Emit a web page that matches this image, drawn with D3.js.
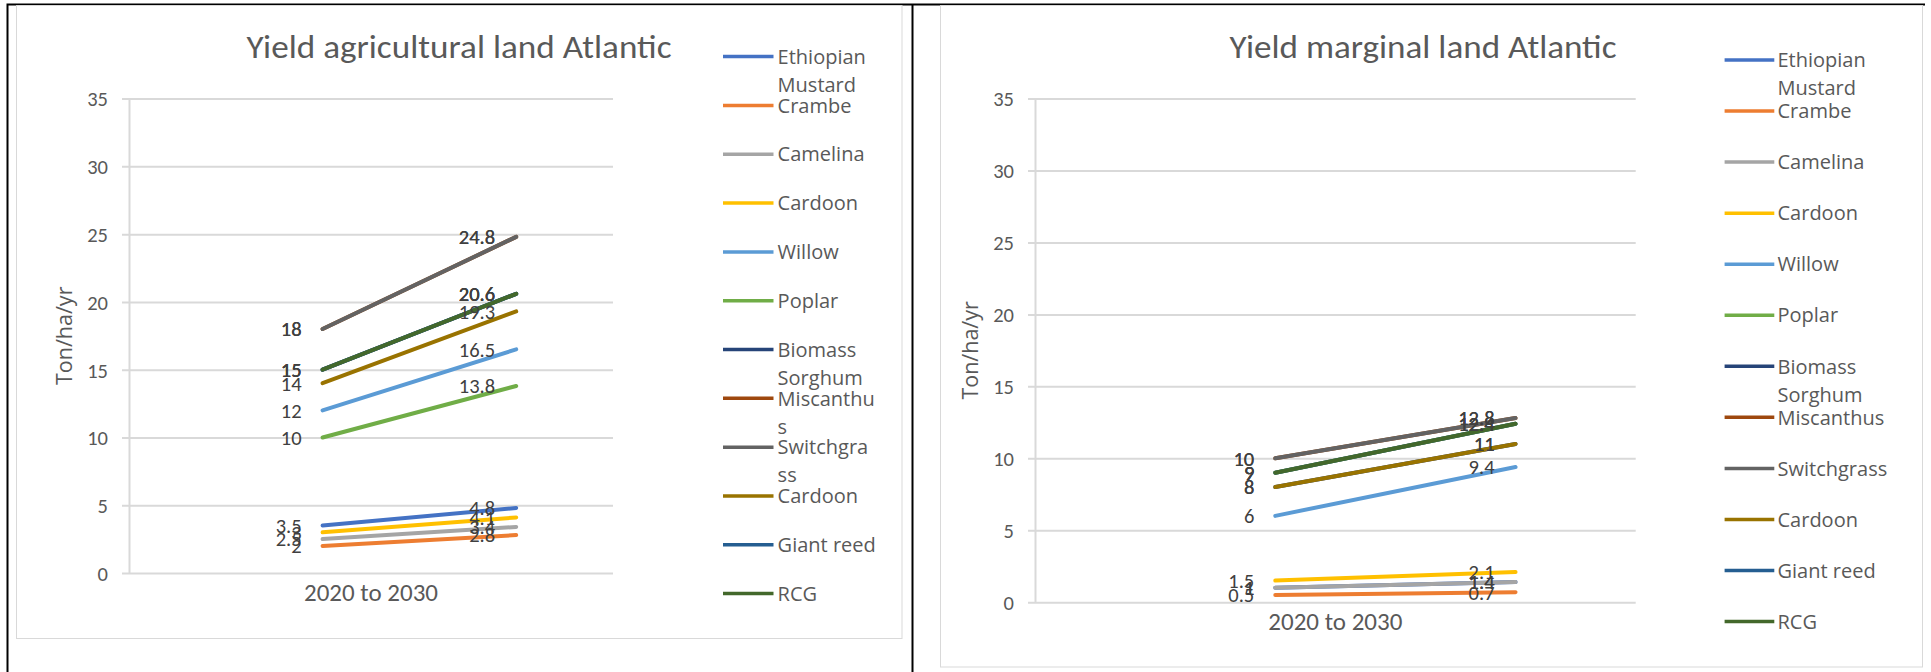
<!DOCTYPE html>
<html>
<head>
<meta charset="utf-8">
<script src="https://cdn.jsdelivr.net/npm/d3@7/dist/d3.min.js"></script>
<style>
  html, body { margin: 0; padding: 0; background: #ffffff; }
  svg { display: block; }
  .num { font-family: Carlito, Calibri, Lato, sans-serif; }
  .ui { font-family: "Segoe UI", "Open Sans", sans-serif; }
</style>
</head>
<body>
<svg id="chart" width="1931" height="672"></svg>
<script>
// ---- data ----
const categories = ["2020 to 2030"];
const periods = ["2020", "2030"];
const seriesNames = [
  "Ethiopian Mustard", "Crambe", "Camelina", "Cardoon", "Willow", "Poplar",
  "Biomass Sorghum", "Miscanthus", "Switchgrass", "Cardoon", "Giant reed", "RCG"
];
const seriesColors = [
  "#4472C4", "#ED7D31", "#A5A5A5", "#FFC000", "#5B9BD5", "#70AD47",
  "#264478", "#9E480E", "#636363", "#997300", "#255E91", "#43682B"
];
// agricultural land, yield in 2020 and in 2030
const agriStart = [3.5, 2, 2.5, 3, 12, 10, 15, 18, 18, 14, 15, 15];
const agriEnd   = [4.8, 2.8, 3.4, 4.1, 16.5, 13.8, 20.6, 24.8, 24.8, 19.3, 20.6, 20.6];
// marginal land, yield in 2020 and in 2030
const margStart = [1, 0.5, 1, 1.5, 6, 9, 8, 10, 10, 8, 9, 9];
const margEnd   = [1.4, 0.7, 1.4, 2.1, 9.4, 12.4, 11, 12.8, 12.8, 11, 12.4, 12.4];
const yTicks = [0, 5, 10, 15, 20, 25, 30, 35];
const yAxisTitle = "Ton/ha/yr";
const titles = ["Yield agricultural land Atlantic", "Yield marginal land Atlantic"];

// ---- layout ----
const panels = [
  {
    title: titles[0], start: agriStart, end: agriEnd,
    frame: { x0: 16.5, y0: 5.5, x1: 902, y1: 638.5 },
    axisX: 129, gridRight: 613, yBottom: 573, yTop: 98.6,
    titleX: 459, titleW: 425, axisTitleX: 64.6,
    legend: { x0: 723, x1: 773.5, tx: 777.6, y0: 56.6, step: 48.82, wrap: 100 }
  },
  {
    title: titles[1], start: margStart, end: margEnd,
    frame: { x0: 940.5, y0: 5.5, x1: 1922.5, y1: 667 },
    axisX: 1035, gridRight: 1635.7, yBottom: 602.2, yTop: 98.6,
    titleX: 1423, titleW: 387, axisTitleX: 970,
    legend: { x0: 1724.6, x1: 1774.3, tx: 1777.5, y0: 60, step: 51.05, wrap: 140 }
  }
];

const svg = d3.select("#chart");
const gridColor = "#D9D9D9";
const textColor = "#595959";
const labelColor = "#404040";

// page borders
svg.append("path")
  .attr("d", "M7.5,672 V4.5 H1925 M912.5,4.5 V672")
  .attr("fill", "none").attr("stroke", "#000").attr("stroke-width", 2);

// wraps a legend label into lines that fit maxW, breaking long words by character
function wrapLabel(textSel, label, maxW) {
  const measure = s => { textSel.text(s); return textSel.node().getComputedTextLength(); };
  const words = label.split(" ");
  const lines = [];
  let cur = "";
  words.forEach(w => {
    const trial = cur ? cur + " " + w : w;
    if (measure(trial) <= maxW) { cur = trial; return; }
    if (cur) lines.push(cur);
    cur = "";
    let piece = "";
    for (const ch of w) {
      if (measure(piece + ch) <= maxW) piece += ch;
      else { lines.push(piece); piece = ch; }
    }
    cur = piece;
  });
  if (cur) lines.push(cur);
  textSel.text(null);
  return lines;
}

panels.forEach(p => {
  const g = svg.append("g");

  // chart frame
  g.append("rect")
    .attr("x", p.frame.x0).attr("y", p.frame.y0)
    .attr("width", p.frame.x1 - p.frame.x0).attr("height", p.frame.y1 - p.frame.y0)
    .attr("fill", "#fff").attr("stroke", gridColor).attr("stroke-width", 1);

  const y = d3.scaleLinear().domain([0, 35]).range([p.yBottom, p.yTop]);
  const band = d3.scaleBand().domain(categories).range([p.axisX, p.gridRight]);
  const w = p.gridRight - p.axisX;
  const x = d3.scalePoint().domain(periods).range([p.axisX + 0.4 * w, p.axisX + 0.8 * w]);

  // value axis with gridlines
  const yAxis = g.append("g")
    .attr("transform", `translate(${p.axisX},0)`)
    .call(d3.axisLeft(y).tickValues(yTicks).tickSize(-w).tickSizeOuter(0));
  yAxis.select(".domain").attr("stroke", gridColor).attr("stroke-width", 2);
  yAxis.selectAll(".tick line")
    .attr("x1", -7).attr("stroke", gridColor).attr("stroke-width", 2);
  yAxis.selectAll(".tick text")
    .attr("x", -21).attr("dy", "0.36em")
    .attr("class", "num").attr("font-size", 20.5).attr("fill", textColor);

  // category label
  g.append("text").attr("class", "num")
    .attr("x", band(categories[0]) + band.bandwidth() / 2)
    .attr("y", p.yBottom + 27.5)
    .attr("text-anchor", "middle").attr("font-size", 25).attr("fill", textColor)
    .text(categories[0]);

  // axis title
  g.append("text").attr("class", "ui")
    .attr("transform", `translate(${p.axisTitleX},${(p.yBottom + p.yTop) / 2}) rotate(-90)`)
    .attr("dy", "0.36em")
    .attr("text-anchor", "middle").attr("font-size", 21.5).attr("fill", textColor)
    .text(yAxisTitle);

  // chart title
  g.append("text").attr("class", "num")
    .attr("x", p.titleX).attr("y", 57.9)
    .attr("text-anchor", "middle").attr("font-size", 32).attr("fill", textColor)
    .attr("textLength", p.titleW).attr("lengthAdjust", "spacingAndGlyphs")
    .text(p.title);

  // series lines
  const series = seriesNames.map((name, i) => ({
    name, color: seriesColors[i],
    values: [{ period: periods[0], v: p.start[i] }, { period: periods[1], v: p.end[i] }]
  }));
  const line = d3.line().x(d => x(d.period)).y(d => y(d.v));
  g.append("g").selectAll("path").data(series).join("path")
    .attr("d", d => line(d.values))
    .attr("fill", "none").attr("stroke", d => d.color)
    .attr("stroke-width", 4).attr("stroke-linecap", "round");

  // value labels, placed left of each point
  g.append("g").selectAll("g").data(series).join("g")
    .selectAll("text").data(d => d.values).join("text")
    .attr("class", "num")
    .attr("x", d => x(d.period) - 21).attr("y", d => y(d.v)).attr("dy", "0.36em")
    .attr("text-anchor", "end").attr("font-size", 20.5).attr("fill", labelColor)
    .text(d => d.v);

  // legend
  const lg = g.append("g");
  series.forEach((s, i) => {
    const cy = p.legend.y0 + i * p.legend.step;
    lg.append("line")
      .attr("x1", p.legend.x0).attr("x2", p.legend.x1)
      .attr("y1", cy).attr("y2", cy)
      .attr("stroke", s.color).attr("stroke-width", 3.5);
    const t = lg.append("text").attr("class", "ui")
      .attr("x", p.legend.tx).attr("y", cy).attr("dy", "0.36em")
      .attr("font-size", 20).attr("fill", textColor);
    const lines = wrapLabel(t, s.name, p.legend.wrap);
    lines.forEach((ln, k) => {
      t.append("tspan").attr("x", p.legend.tx).attr("y", cy + k * 28)
        .attr("dy", "0.36em").text(ln);
    });
  });
});
</script>
</body>
</html>
